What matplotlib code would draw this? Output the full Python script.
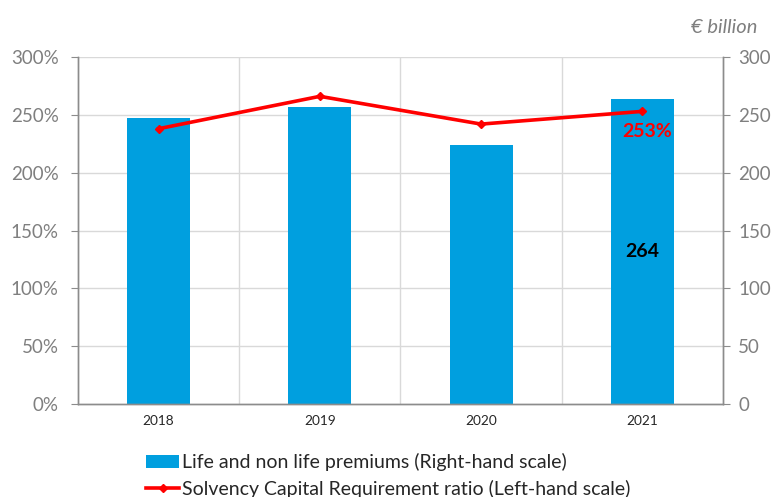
import matplotlib
matplotlib.use("Agg")
import matplotlib.pyplot as plt
from matplotlib.ticker import FuncFormatter
import numpy as np

years = ["2018", "2019", "2020", "2021"]
premiums = [247, 257, 224, 264]          # € billion (right-hand scale)
scr_ratio = [238, 266, 242, 253]         # % (left-hand scale)

plt.rcParams['font.family'] = ['Lato', 'DejaVu Sans']

fig = plt.figure(figsize=(7.79, 4.97), dpi=100)
ax_bar = fig.add_axes([0.1001, 0.1871, 0.8280, 0.6982])
ax_line = ax_bar.twinx()

x = np.arange(len(years))
blue = "#009FDF"
red = "#FF0000"
grid_c = "#D9D9D9"
axis_c = "#8C8C8C"
tick_c = "#7F7F7F"

ax_bar.bar(x, premiums, width=0.39, color=blue, zorder=2,
           label="Life and non life premiums (Right-hand scale)")
ax_bar.set_ylim(0, 300)
ax_bar.set_xlim(-0.5, len(years) - 0.5)
ax_bar.yaxis.tick_right()
ax_bar.set_yticks(range(0, 301, 50))
ax_bar.set_xticks(x)
ax_bar.set_xticklabels(years, fontsize=9.8, color="#262626")
ax_bar.tick_params(axis="x", length=0, pad=8)
ax_bar.tick_params(axis="y", length=5, color=axis_c, labelcolor=tick_c, labelsize=13.5, pad=6)
for yv in range(50, 301, 50):
    ax_bar.axhline(yv, color=grid_c, lw=1, zorder=0)
for xv in [0.5, 1.5, 2.5]:
    ax_bar.axvline(xv, color=grid_c, lw=1, zorder=0)

ax_line.plot(x, scr_ratio, color=red, lw=2.6, marker="D", markersize=4, zorder=3,
             label="Solvency Capital Requirement ratio (Left-hand scale)")
ax_line.set_ylim(0, 300)
ax_line.yaxis.tick_left()
ax_line.set_yticks(range(0, 301, 50))
ax_line.yaxis.set_major_formatter(FuncFormatter(lambda v, p: f"{int(v)}%"))
ax_line.tick_params(axis="y", length=5, color=axis_c, labelcolor=tick_c, labelsize=13.5, pad=9)

for a in (ax_bar, ax_line):
    a.spines["top"].set_visible(False)
    for s in ("left", "right", "bottom"):
        a.spines[s].set_color(axis_c)
        a.spines[s].set_linewidth(1)

# data labels
ax_bar.text(x[-1], premiums[-1] / 2, f"{premiums[-1]}", ha="center", va="center",
            fontsize=14, fontweight="bold", color="black", zorder=4)
ax_line.text(x[-1] + 0.03, scr_ratio[-1] - 17, f"{scr_ratio[-1]}%", ha="center", va="center",
             fontsize=14, fontweight="bold", color=red, zorder=4)

fig.text(0.972, 0.945, "€ billion", ha="right", va="center", fontsize=14.5,
         style="italic", color=tick_c)

h1, l1 = ax_bar.get_legend_handles_labels()
h2, l2 = ax_line.get_legend_handles_labels()
fig.legend(h1 + h2, l1 + l2, loc="upper left", bbox_to_anchor=(0.178, 0.104),
           frameon=False, fontsize=14, handlelength=1.7, handletextpad=0.15,
           labelspacing=0.45, borderaxespad=0, labelcolor="#262626")

fig.savefig("out.png", dpi=100)
